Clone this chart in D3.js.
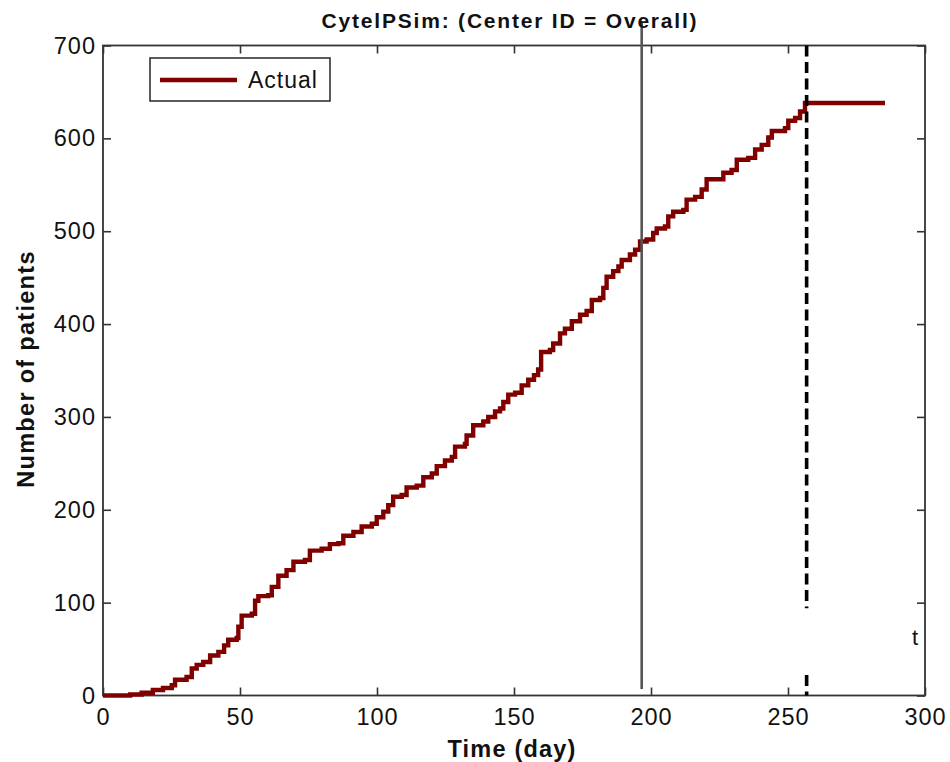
<!DOCTYPE html>
<html>
<head>
<meta charset="utf-8">
<script src="https://cdn.jsdelivr.net/npm/d3@7/dist/d3.min.js"></script>
<style>
  body { margin: 0; background: #fff; }
  svg { display: block; }
  text { font-family: "Liberation Sans", Arial, Helvetica, sans-serif; fill: #111; }
</style>
</head>
<body>
<svg id="chart" width="950" height="762"></svg>
<script>
// Cumulative enrolment, step function: day at which each new count is reached
const days = [0, 9.9, 14.1, 18.2, 21.9, 25.1, 26.3, 30.5, 32.4, 34.2, 36.6, 39.1, 42.1, 44.2, 45.7,
  48.8, 49.4, 50.6, 54.3, 55.5, 56.7, 60.3, 61.6, 64.0, 67.0, 69.5, 73.7, 75.5, 79.8, 82.8,
  85.9, 87.7, 91.4, 94.4, 98.1, 99.9, 102.3, 104.1, 105.9, 109.0, 110.8, 114.5, 116.9, 120.0,
  121.8, 124.8, 127.3, 128.5, 132.1, 132.7, 135.1, 138.8, 140.6, 143.1, 144.9, 146.1, 147.9,
  150.4, 152.8, 155.2, 157.3, 158.8, 159.9, 163.1, 164.3, 166.8, 168.6, 171.1, 174.1, 176.5,
  178.4, 181.4, 182.6, 183.8, 186.2, 188.1, 189.3, 192.3, 194.2, 196.0, 198.4, 200.8, 202.1,
  205.1, 206.3, 208.1, 211.8, 213.0, 216.1, 218.5, 220.3, 226.4, 229.4, 231.3, 235.5, 238.0,
  240.4, 242.8, 244.1, 248.9, 250.1, 252.6, 254.4, 256.2, 285.4];
const patients = [0, 1, 3, 6, 8, 11, 17, 20, 29, 33, 36, 43, 47, 54, 60,
  62, 74, 86, 88, 102, 107, 108, 117, 129, 135, 144, 146, 156, 158, 163,
  164, 172, 176, 182, 185, 192, 198, 205, 214, 216, 224, 226, 235, 239,
  247, 253, 257, 268, 271, 280, 291, 295, 300, 306, 309, 316, 324,
  326, 334, 340, 345, 351, 370, 372, 379, 390, 395, 403, 410, 414,
  426, 428, 439, 451, 457, 462, 469, 475, 480, 489, 491, 498, 503,
  505, 516, 521, 523, 534, 537, 545, 556, 563, 566, 577, 579, 588,
  593, 601, 608, 611, 619, 622, 629, 638, 638];

const xTicks = [0, 50, 100, 150, 200, 250, 300];
const yTicks = [0, 100, 200, 300, 400, 500, 600, 700];
const xDomain = [0, 300];
const yDomain = [0, 700];

const seriesName = "Actual";
const titleText = "CytelPSim: (Center ID = Overall)";
const xLabel = "Time (day)";
const yLabel = "Number of patients";

// Reference markers: current day (solid grey) and cut-off day (dashed black)
const currentDay = 196.6;
const currentSpan = [7, 725];
const cutoffDay = 256.8;
const cutoffSpans = [[94, 700], [0, 22]];
const cutoffLabel = "t";

const svg = d3.select("#chart");
const plot = { left: 103, right: 925, top: 45.5, bottom: 695.5 };

const x = d3.scaleLinear().domain(xDomain).range([plot.left, plot.right]);
const y = d3.scaleLinear().domain(yDomain).range([plot.bottom, plot.top]);

const axisColor = "#333";

// Bottom axis with labels
const gx = svg.append("g")
  .attr("transform", `translate(0,${plot.bottom})`)
  .call(d3.axisBottom(x).tickValues(xTicks).tickSizeInner(-8).tickSizeOuter(0).tickPadding(13).tickFormat(d3.format("d")));
// Left axis with labels
const gy = svg.append("g")
  .attr("transform", `translate(${plot.left},0)`)
  .call(d3.axisLeft(y).tickValues(yTicks).tickSizeInner(-8).tickSizeOuter(0).tickPadding(7).tickFormat(d3.format("d")));
// Top and right ticks, no labels
const gxt = svg.append("g")
  .attr("transform", `translate(0,${plot.top})`)
  .call(d3.axisTop(x).tickValues(xTicks).tickSizeInner(-8).tickSizeOuter(0).tickFormat(""));
const gyr = svg.append("g")
  .attr("transform", `translate(${plot.right},0)`)
  .call(d3.axisRight(y).tickValues(yTicks).tickSizeInner(-8).tickSizeOuter(0).tickFormat(""));

[gx, gy, gxt, gyr].forEach(g => {
  g.select(".domain").remove();
  g.selectAll(".tick line").attr("stroke", axisColor).attr("stroke-width", 1.6);
  g.selectAll(".tick text")
    .attr("fill", "#222")
    .style("font-size", "23.5px")
    .style("letter-spacing", "1px")
    .style("font-family", '"Liberation Sans", Arial, sans-serif');
});

// Plot frame
svg.append("rect")
  .attr("x", plot.left).attr("y", plot.top)
  .attr("width", plot.right - plot.left).attr("height", plot.bottom - plot.top)
  .attr("fill", "none").attr("stroke", axisColor).attr("stroke-width", 1.8);

// Enrolment curve
const series = days.map((d, i) => ({ day: d, n: patients[i] }));
svg.append("path")
  .datum(series)
  .attr("fill", "none")
  .attr("stroke", "#800000")
  .attr("stroke-width", 4.4)
  .attr("stroke-linejoin", "miter")
  .attr("d", d3.line().x(d => x(d.day)).y(d => y(d.n)).curve(d3.curveStepAfter));

// Current-day marker
svg.append("line")
  .attr("x1", x(currentDay)).attr("x2", x(currentDay))
  .attr("y1", y(currentSpan[0])).attr("y2", y(currentSpan[1]))
  .attr("stroke", "#555").attr("stroke-width", 2.6);

// Cut-off marker
cutoffSpans.forEach(s => {
  svg.append("line")
    .attr("x1", x(cutoffDay)).attr("x2", x(cutoffDay))
    .attr("y1", y(s[1])).attr("y2", y(s[0]))
    .attr("stroke", "#000").attr("stroke-width", 3.6)
    .attr("stroke-dasharray", "11,5.5");
});
svg.append("text")
  .attr("x", 912).attr("y", 645)
  .style("font-size", "22px")
  .text(cutoffLabel);

// Legend
const lg = svg.append("g");
lg.append("rect")
  .attr("x", 150).attr("y", 58).attr("width", 180).attr("height", 43)
  .attr("fill", "#fff").attr("stroke", axisColor).attr("stroke-width", 1.6);
lg.append("line")
  .attr("x1", 160).attr("x2", 237).attr("y1", 80).attr("y2", 80)
  .attr("stroke", "#800000").attr("stroke-width", 4.4);
lg.append("text")
  .attr("x", 248).attr("y", 88)
  .style("font-size", "23px").style("letter-spacing", "1px")
  .text(seriesName);

// Title and axis labels
svg.append("text")
  .attr("x", 510).attr("y", 28)
  .attr("text-anchor", "middle")
  .style("font-size", "21px").style("font-weight", "bold").style("letter-spacing", "1.8px")
  .text(titleText);

svg.append("text")
  .attr("x", 512).attr("y", 757)
  .attr("text-anchor", "middle")
  .style("font-size", "23.5px").style("font-weight", "bold").style("letter-spacing", "1.2px")
  .text(xLabel);

svg.append("text")
  .attr("transform", "translate(33.5,369) rotate(-90)")
  .attr("text-anchor", "middle")
  .style("font-size", "23.5px").style("font-weight", "bold").style("letter-spacing", "1.3px")
  .text(yLabel);
</script>
</body>
</html>
